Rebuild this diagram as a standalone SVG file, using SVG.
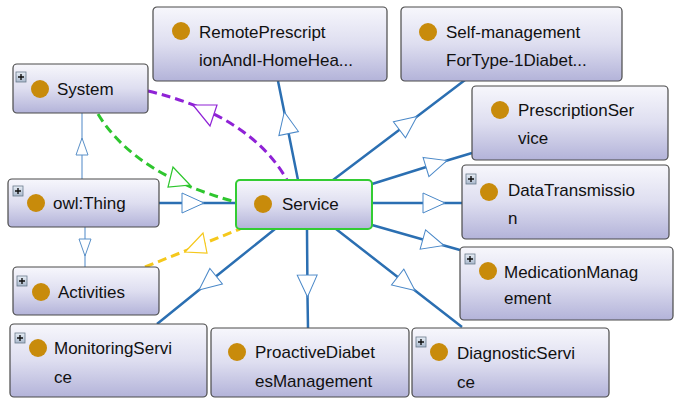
<svg xmlns="http://www.w3.org/2000/svg" width="682" height="399" viewBox="0 0 682 399">
<defs>
<linearGradient id="boxg" x1="0" y1="0" x2="0" y2="1">
<stop offset="0" stop-color="#f7f7fc"/>
<stop offset="0.5" stop-color="#dedef0"/>
<stop offset="1" stop-color="#b3b3d9"/>
</linearGradient>
<linearGradient id="plusg" x1="0" y1="0" x2="0" y2="1">
<stop offset="0" stop-color="#e8eef6"/>
<stop offset="1" stop-color="#a9b8cc"/>
</linearGradient>
<marker id="tri" markerUnits="userSpaceOnUse" viewBox="-2 -2 26 24" markerWidth="26" markerHeight="24" refX="22" refY="10" orient="auto">
<path d="M0,0 L22,10 L0,20 Z" fill="#fff" stroke="#4a88c8" stroke-width="1"/>
</marker>
<marker id="triThin" markerUnits="userSpaceOnUse" viewBox="-2 -2 21 16" markerWidth="21" markerHeight="16" refX="17" refY="6" orient="auto">
<path d="M0,0 L17,6 L0,12 Z" fill="#fff" stroke="#5a90c8" stroke-width="1"/>
</marker>
<style>
.box{fill:url(#boxg);stroke:#4a4a4a;stroke-width:1.2}
.sel{fill:url(#boxg);stroke:#33cc33;stroke-width:2}
.dot{fill:#c88b0b}
.lbl{font-family:"Liberation Sans",Arial,sans-serif;font-size:17px;fill:#111}
.plus rect{fill:url(#plusg);stroke:#6a7a8c;stroke-width:0.8}
.plus path{stroke:#111;stroke-width:1.4}
.edge{fill:none;stroke:#2b6fb2;stroke-width:2.5;marker-mid:url(#tri)}
.thin{fill:none;stroke:#6b9bd0;stroke-width:1.2;marker-mid:url(#triThin)}
.dash{fill:none;stroke-width:3;stroke-dasharray:9 5}
.head{fill:#fff;stroke-width:1.2}
</style>
</defs>
<rect width="682" height="399" fill="#fff"/>
<g id="connectors">
<path class="thin" d="M82,179 L82,138 L82,113"/>
<path class="thin" d="M85,227 L85,256 L85,267"/>
<path class="edge" d="M159,203 L204,203 L236,203"/>
<path class="edge" d="M298,180 L284.3,112 L278,81"/>
<path class="edge" d="M333,180 L417,116.5 L465,80"/>
<path class="edge" d="M372,184 L447,160.5 L472,153"/>
<path class="edge" d="M372,203 L445,203 L462,203"/>
<path class="edge" d="M372,225 L444,245.5 L460,250"/>
<path class="edge" d="M336,229 L415,290.5 L462,327"/>
<path class="edge" d="M307,229 L307.5,297 L308,328"/>
<path class="edge" d="M275,229 L199,290 L157,324"/>
<path class="dash" stroke="#8f22d6" d="M148,91 Q250,115 287,180"/>
<polygon class="head" stroke="#8f22d6" points="193,105 217,105 210,126"/>
<path class="dash" stroke="#2ec62e" d="M98,114 Q135,175 236,202"/>
<polygon class="head" stroke="#2ec62e" points="190,185 173,167 168,187"/>
<path class="dash" stroke="#f5c81c" d="M145,267 L240,229"/>
<polygon class="head" stroke="#f5c81c" points="185,252 203,233 207,253"/>
</g>
<g id="node-system">
<rect class="box" x="13" y="64" width="135" height="49" rx="4"/>
<g class="plus"><rect x="16" y="72" width="10" height="10"/><path d="M18,77 H24 M21,74 V80"/></g>
<circle class="dot" cx="40" cy="89" r="9"/>
<text class="lbl" x="57" y="95">System</text>
</g>
<g id="node-owlthing">
<rect class="box" x="8" y="179" width="151" height="48" rx="4"/>
<g class="plus"><rect x="13" y="186" width="10" height="10"/><path d="M15,191 H21 M18,188 V194"/></g>
<circle class="dot" cx="36" cy="203" r="9"/>
<text class="lbl" x="53" y="209">owl:Thing</text>
</g>
<g id="node-activities">
<rect class="box" x="13" y="267" width="146" height="48" rx="4"/>
<g class="plus"><rect x="17" y="276" width="10" height="10"/><path d="M19,281 H25 M22,278 V284"/></g>
<circle class="dot" cx="41" cy="292" r="9"/>
<text class="lbl" x="58" y="298">Activities</text>
</g>
<g id="node-service">
<rect class="sel" x="236" y="180" width="136" height="49" rx="4"/>
<circle class="dot" cx="263" cy="204" r="9"/>
<text class="lbl" x="282" y="210">Service</text>
</g>
<g id="node-remote">
<rect class="box" x="153" y="7" width="234" height="74" rx="4"/>
<circle class="dot" cx="181" cy="31" r="9"/>
<text class="lbl" x="199" y="38">RemotePrescript</text>
<text class="lbl" x="199" y="66">ionAndI-HomeHea...</text>
</g>
<g id="node-selfmanagement">
<rect class="box" x="401" y="7" width="221" height="74" rx="4"/>
<circle class="dot" cx="428" cy="32" r="9"/>
<text class="lbl" x="446" y="38">Self-management</text>
<text class="lbl" x="446" y="66">ForType-1Diabet...</text>
</g>
<g id="node-prescription">
<rect class="box" x="472" y="86" width="196" height="74" rx="4"/>
<circle class="dot" cx="500" cy="110" r="9"/>
<text class="lbl" x="518" y="116">PrescriptionSer</text>
<text class="lbl" x="518" y="144">vice</text>
</g>
<g id="node-datatransmission">
<rect class="box" x="462" y="165" width="207" height="74" rx="4"/>
<g class="plus"><rect x="466" y="174" width="10" height="10"/><path d="M468,179 H474 M471,176 V182"/></g>
<circle class="dot" cx="489" cy="192" r="9"/>
<text class="lbl" x="508" y="196">DataTransmissio</text>
<text class="lbl" x="508" y="224">n</text>
</g>
<g id="node-medication">
<rect class="box" x="460" y="247" width="213" height="73" rx="4"/>
<g class="plus"><rect x="465" y="254" width="10" height="10"/><path d="M467,259 H473 M470,256 V262"/></g>
<circle class="dot" cx="488" cy="271" r="9"/>
<text class="lbl" x="504" y="278">MedicationManag</text>
<text class="lbl" x="504" y="304">ement</text>
</g>
<g id="node-monitoring">
<rect class="box" x="10" y="324" width="197" height="73" rx="4"/>
<g class="plus"><rect x="15" y="333" width="10" height="10"/><path d="M17,338 H23 M20,335 V341"/></g>
<circle class="dot" cx="38" cy="348" r="9"/>
<text class="lbl" x="54" y="354">MonitoringServi</text>
<text class="lbl" x="54" y="383">ce</text>
</g>
<g id="node-proactive">
<rect class="box" x="211" y="328" width="198" height="69" rx="4"/>
<circle class="dot" cx="237" cy="352" r="9"/>
<text class="lbl" x="255" y="358">ProactiveDiabet</text>
<text class="lbl" x="255" y="387">esManagement</text>
</g>
<g id="node-diagnostic">
<rect class="box" x="412" y="328" width="197" height="69" rx="4"/>
<g class="plus"><rect x="416" y="337" width="10" height="10"/><path d="M418,342 H424 M421,339 V345"/></g>
<circle class="dot" cx="439" cy="352" r="9"/>
<text class="lbl" x="457" y="359">DiagnosticServi</text>
<text class="lbl" x="457" y="388">ce</text>
</g>
</svg>
